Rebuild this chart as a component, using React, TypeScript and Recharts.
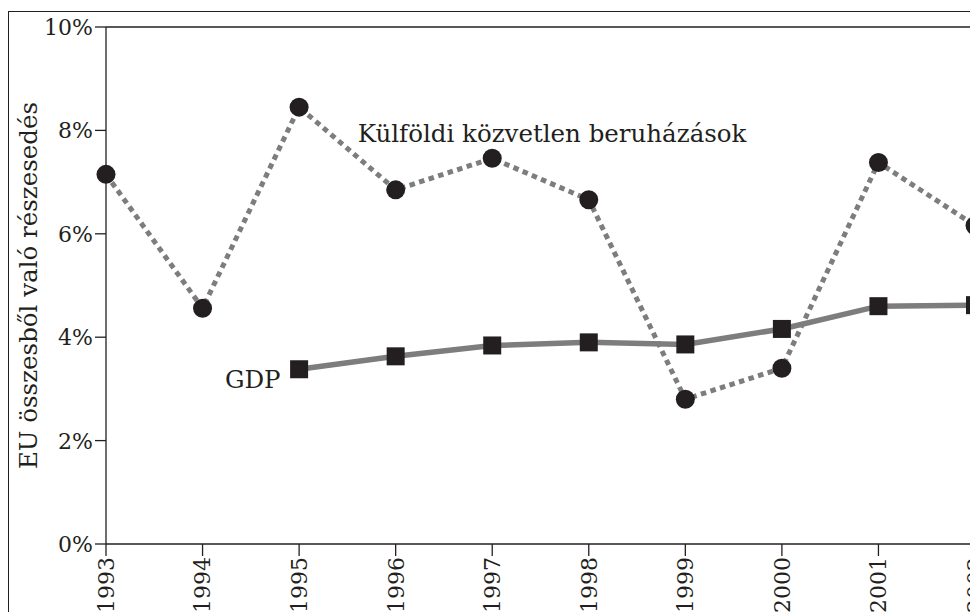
import React from 'react';
import { LineChart, Line, XAxis, YAxis, ReferenceLine, ReferenceDot } from 'recharts';

const years = [1993, 1994, 1995, 1996, 1997, 1998, 1999, 2000, 2001, 2002];
const fdi = [7.15, 4.56, 8.45, 6.85, 7.46, 6.66, 2.80, 3.40, 7.38, 6.16];
const gdp = [null, null, 3.38, 3.63, 3.84, 3.90, 3.86, 4.16, 4.60, 4.62];
const yTicks = [0, 2, 4, 6, 8, 10];

const data = years.map((y, i) => ({ year: y, fdi: fdi[i], gdp: gdp[i] }));

const FONT = 'DejaVu Serif';
const INK = '#231f20';
const GREY = '#7d7d7d';
const TICK_FS = 22;
const XTICK_FS = 22;
const LABEL_FS = 24.5;

const XTick = (props: any) => {
  const { x, y, payload } = props;
  return (
    <text
      x={x}
      y={y}
      transform={`rotate(-90, ${x}, ${y})`}
      textAnchor="end"
      dy="0.36em"
      fontFamily={FONT}
      fontSize={XTICK_FS}
      fill={INK}
    >
      {payload.value}
    </text>
  );
};

const YTick = (props: any) => {
  const { x, y, payload } = props;
  return (
    <text x={x} y={y} textAnchor="end" dy="0.36em" fontFamily={FONT} fontSize={TICK_FS} fill={INK}>
      {payload.value}%
    </text>
  );
};

const CircleDot = (props: any) => {
  const { cx, cy, index } = props;
  if (cx == null || cy == null) return <g key={`c${index}`} />;
  return <circle key={`c${index}`} cx={cx} cy={cy} r={9.5} fill={INK} />;
};

const SquareDot = (props: any) => {
  const { cx, cy, index, value } = props;
  if (cx == null || cy == null || value == null) return <g key={`s${index}`} />;
  return <rect key={`s${index}`} x={cx - 9} y={cy - 9} width={18} height={18} fill={INK} />;
};

export default function App() {
  return (
    <div style={{ position: 'relative', width: 970, height: 604, overflow: 'hidden', background: '#fff' }}>
      <div
        style={{
          position: 'absolute',
          top: 3,
          left: 0,
          width: 2000,
          height: 2000,
          borderTop: `1.2px solid ${INK}`,
          borderLeft: `1.2px solid ${INK}`,
        }}
      />
      <div style={{ position: 'absolute', top: 0, left: 0 }}>
        <LineChart
          width={1000}
          height={650}
          data={data}
          margin={{ top: 19, right: 33, bottom: 84, left: 8 }}
        >
          <XAxis
            dataKey="year"
            type="number"
            domain={[1993, 2002]}
            ticks={years}
            interval={0}
            height={30}
            tickSize={12}
            tickMargin={1}
            tick={<XTick />}
            stroke={INK}
            strokeWidth={1.3}
            allowDecimals={false}
          />
          <YAxis
            domain={[0, 10]}
            ticks={yTicks}
            width={90}
            tickSize={11}
            tickMargin={2}
            tick={<YTick />}
            stroke={INK}
            strokeWidth={1.3}
            label={{
              value: 'EU összesből való részesedés',
              angle: -90,
              position: 'insideLeft',
              offset: 12,
              style: { fontFamily: FONT, fontSize: LABEL_FS, fill: INK, textAnchor: 'middle' },
            }}
          />
          <ReferenceLine y={10} stroke={INK} strokeWidth={1.3} />
          <ReferenceLine x={2002} stroke="#444" strokeWidth={2.5} />
          <Line
            dataKey="fdi"
            stroke={GREY}
            strokeWidth={5}
            strokeDasharray="5.5 4.5"
            dot={<CircleDot />}
            activeDot={false}
            isAnimationActive={false}
          />
          <Line
            dataKey="gdp"
            stroke={GREY}
            strokeWidth={5.5}
            dot={<SquareDot />}
            activeDot={false}
            connectNulls={false}
            isAnimationActive={false}
          />
          <ReferenceDot
            x={1997.62}
            y={7.95}
            r={0}
            ifOverflow="visible"
            label={{
              value: 'Külföldi közvetlen beruházások',
              position: 'center',
              style: { fontFamily: FONT, fontSize: LABEL_FS, fill: INK },
            }}
          />
          <ReferenceDot
            x={1994.52}
            y={3.18}
            r={0}
            ifOverflow="visible"
            label={{
              value: 'GDP',
              position: 'center',
              style: { fontFamily: FONT, fontSize: LABEL_FS, fill: INK },
            }}
          />
        </LineChart>
      </div>
    </div>
  );
}
